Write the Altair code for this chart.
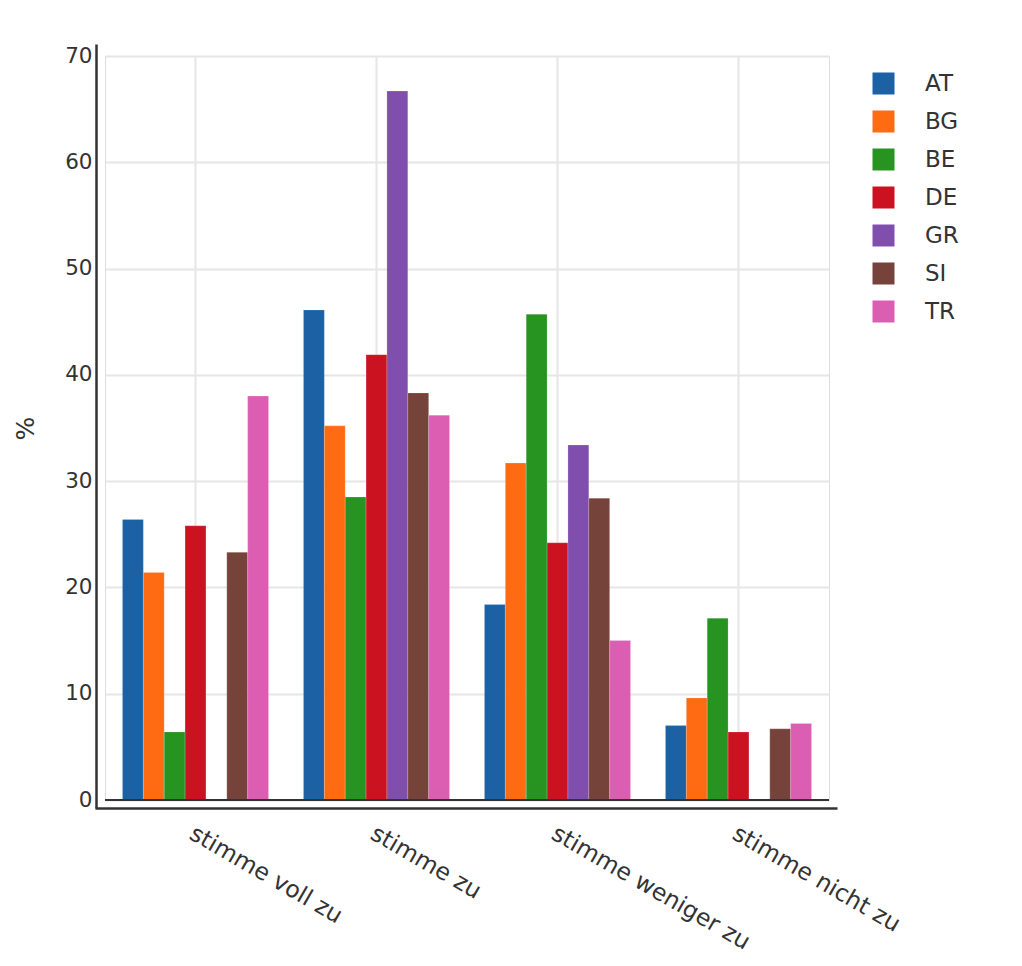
import altair as alt
import pandas as pd

categories = ["stimme voll zu", "stimme zu", "stimme weniger zu", "stimme nicht zu"]
countries = ["AT", "BG", "BE", "DE", "GR", "SI", "TR"]
colors = ["#1b61a4", "#fe6b12", "#279321", "#ca1220", "#804fae", "#76433b", "#db5eb3"]

AT = [26.4, 46.1, 18.4, 7.0]
BG = [21.4, 35.2, 31.7, 9.6]
BE = [6.4, 28.5, 45.7, 17.1]
DE = [25.8, 41.9, 24.2, 6.4]
GR = [None, 66.7, 33.4, None]
SI = [23.3, 38.3, 28.4, 6.7]
TR = [38.0, 36.2, 15.0, 7.2]

y_ticks = [0, 10, 20, 30, 40, 50, 60, 70]

series = {"AT": AT, "BG": BG, "BE": BE, "DE": DE, "GR": GR, "SI": SI, "TR": TR}
rows = []
for c, vals in series.items():
    for cat, v in zip(categories, vals):
        if v is not None:
            rows.append({"cat": cat, "country": c, "value": v})
df = pd.DataFrame(rows)

FONT = "DejaVu Sans"
W, H = 724, 744

bars = alt.Chart(df).mark_bar(stroke="white", strokeWidth=0.3, strokeOpacity=0.6).encode(
    x=alt.X("cat:N", sort=categories,
            scale=alt.Scale(paddingInner=0.193, paddingOuter=0.0965),
            axis=alt.Axis(title=None, domain=False, ticks=False, grid=True,
                          gridColor="#e6e6e6", gridWidth=2, tickBand="center",
                          labelAngle=30, labelAlign="left", labelBaseline="top",
                          labelPadding=21, labelFontSize=23.5, labelColor="#333",
                          labelFont=FONT, labelLimit=0, labelOffset=2)),
    xOffset=alt.XOffset("country:N", sort=countries, scale=alt.Scale(domain=countries)),
    y=alt.Y("value:Q", scale=alt.Scale(domain=[0, 70], nice=False, zero=True),
            axis=alt.Axis(title="%", values=y_ticks, domain=False, ticks=False,
                          grid=True, gridColor="#e6e6e6", gridWidth=2,
                          labelPadding=13, labelFontSize=21.5, labelColor="#333",
                          labelFont=FONT, titleFontSize=25, titleColor="#333",
                          titleFont=FONT, titleFontWeight="normal", titlePadding=26)),
    color=alt.Color("country:N", sort=countries,
                    scale=alt.Scale(domain=countries, range=colors),
                    legend=alt.Legend(title=None, orient="none", legendX=767, legendY=16,
                                      symbolType="square", symbolSize=484,
                                      symbolStrokeWidth=0, symbolOpacity=1,
                                      labelFontSize=23, labelColor="#333", labelFont=FONT,
                                      labelOffset=30, rowPadding=14)),
)

zero = alt.Chart(pd.DataFrame({"z": [0]})).mark_rule(color="#333", strokeWidth=2).encode(
    y="z:Q"
)

one = pd.DataFrame({"a": [0]})
yline = alt.Chart(one).mark_rule(color="#333", strokeWidth=2.5).encode(
    x=alt.value(-8.5), y=alt.value(-11.6), y2=alt.value(752.4)
)
xline = alt.Chart(one).mark_rule(color="#333", strokeWidth=2.5).encode(
    y=alt.value(752.4), x=alt.value(-9.5), x2=alt.value(732.5)
)

chart = alt.layer(bars, zero, yline, xline).properties(
    width=W, height=H,
    autosize=alt.AutoSizeParams(type="none"),
    padding={"left": 97, "top": 48, "right": 185, "bottom": 158},
).configure_view(stroke=None).configure(font=FONT)

chart.save("out.html", embed_options={"renderer": "svg", "actions": False})
